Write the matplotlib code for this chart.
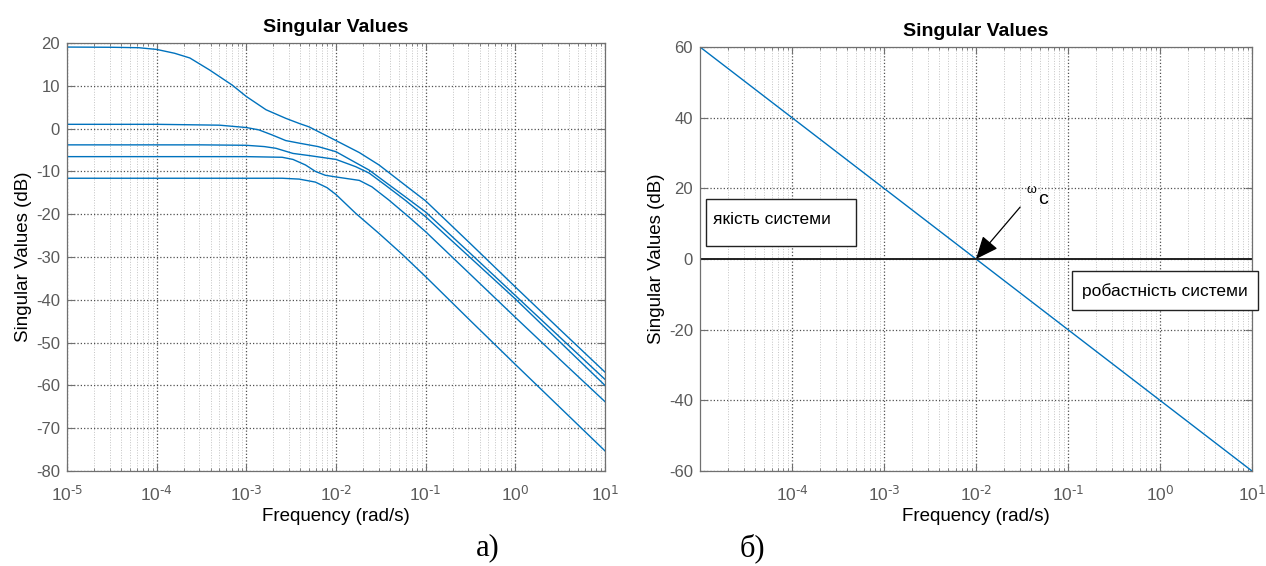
import matplotlib
matplotlib.use("Agg")
import matplotlib.pyplot as plt
import numpy as np
from matplotlib.patches import Rectangle
from matplotlib.ticker import FixedLocator, LogLocator, NullFormatter, FuncFormatter

# --- дані ---------------------------------------------------------------
# ліва панель: п'ять сингулярних чисел, частота задана показником 10^x
sv1_exp = [-5.0, -4.5, -4.2, -4.0, -3.8, -3.63, -3.41, -3.16, -3.0, -2.78, -2.56,
           -2.41, -2.3, -2.0, -1.74, -1.52, -1.23, -1.0, -0.5, 0.0, 0.5, 1.0]
sv1_db = [19.05, 19.0, 18.9, 18.5, 17.6, 16.5, 13.7, 10.2, 7.5, 4.4, 2.4,
          1.2, 0.4, -2.8, -5.6, -8.5, -13.2, -16.9, -26.9, -37.0, -47.0, -56.9]

sv2_exp = [-5.0, -4.0, -3.3, -3.0, -2.86, -2.71, -2.56, -2.41, -2.2, -2.0, -1.82,
           -1.63, -1.23, -1.0, -0.5, 0.0, 0.5, 1.0]
sv2_db = [1.0, 1.0, 0.8, 0.25, -0.3, -1.5, -2.8, -3.4, -4.2, -5.4, -7.5,
          -9.7, -15.9, -19.5, -29.2, -39.0, -48.8, -58.6]

sv3_exp = [-5.0, -3.5, -3.0, -2.8, -2.67, -2.48, -2.3, -2.0, -1.78, -1.63, -1.45,
           -1.23, -1.0, -0.5, 0.0, 0.5, 1.0]
sv3_db = [-3.8, -3.8, -3.9, -4.2, -4.6, -5.8, -6.3, -7.2, -8.9, -10.4, -13.2,
          -16.7, -20.6, -30.2, -39.8, -49.9, -60.0]

sv4_exp = [-5.0, -3.0, -2.6, -2.48, -2.34, -2.23, -2.12, -2.0, -1.74, -1.6, -1.41,
           -1.19, -1.0, -0.5, 0.0, 0.5, 1.0]
sv4_db = [-6.55, -6.55, -6.7, -7.2, -8.5, -10.0, -10.9, -11.3, -12.1, -13.6, -16.7,
          -20.6, -24.1, -34.1, -44.1, -54.0, -63.8]

sv5_exp = [-5.0, -3.0, -2.6, -2.41, -2.23, -2.1, -2.0, -1.78, -1.52, -1.26, -1.0,
           -0.5, 0.0, 0.5, 1.0]
sv5_db = [-11.6, -11.6, -11.6, -11.8, -12.5, -13.8, -15.4, -19.8, -24.5, -29.4, -34.6,
          -44.9, -55.1, -65.2, -75.3]

left_curves = [(sv1_exp, sv1_db), (sv2_exp, sv2_db), (sv3_exp, sv3_db),
               (sv4_exp, sv4_db), (sv5_exp, sv5_db)]

# права панель: бажана характеристика та рівень 0 дБ
loop_freq = [1e-5, 1e1]
loop_db = [60, -60]
crossover_freq = 1e-2

left_yticks = [20, 10, 0, -10, -20, -30, -40, -50, -60, -70, -80]
right_yticks = [60, 40, 20, 0, -20, -40, -60]
left_xticks = [1e-5, 1e-4, 1e-3, 1e-2, 1e-1, 1e0, 1e1]
right_xticks = [1e-4, 1e-3, 1e-2, 1e-1, 1e0, 1e1]

# --- стиль -----------------------------------------------------------------
plt.rcParams["font.family"] = ["Liberation Sans", "DejaVu Sans"]
plt.rcParams["axes.unicode_minus"] = False

LINE = "#0072BD"
AX_GRAY = "#707070"
TICK_GRAY = "#5a5a5a"

fig = plt.figure(figsize=(12.66, 5.66), dpi=100)
W, H = 1266, 566


def px_axes(x0, y0, x1, y1):
    return fig.add_axes([x0 / W, 1 - y1 / H, (x1 - x0) / W, (y1 - y0) / H])


def pow10_label(v, pos):
    # показник з дефісом, як у MATLAB
    e = int(round(np.log10(v)))
    return r"$\mathdefault{10^{\text{%d}}}$" % e


def style_axes(ax, yticks, xticks, ylim):
    ax.set_xscale("log")
    ax.set_xlim(1e-5, 1e1)
    ax.set_ylim(*ylim)
    ax.xaxis.set_major_locator(FixedLocator(xticks))
    ax.xaxis.set_major_formatter(FuncFormatter(pow10_label))
    ax.xaxis.set_minor_locator(LogLocator(base=10, subs=np.arange(2, 10), numticks=20))
    ax.xaxis.set_minor_formatter(NullFormatter())
    ax.set_yticks(yticks)
    ax.set_yticklabels([str(v) for v in yticks])
    for s in ax.spines.values():
        s.set_color(AX_GRAY)
        s.set_linewidth(0.9)
    ax.tick_params(which="both", direction="in", top=True, right=True, color=AX_GRAY)
    ax.tick_params(which="major", length=5, width=0.8)
    ax.tick_params(which="minor", length=2.5, width=0.6)
    ax.tick_params(axis="y", labelsize=12, labelcolor=TICK_GRAY, pad=5)
    ax.tick_params(axis="x", labelsize=12.5, labelcolor=TICK_GRAY, pad=10)
    ax.grid(True, which="major", color="#505050", linestyle=":", linewidth=0.9)
    ax.grid(True, which="minor", axis="x", color="#c4c4c4", linestyle=":", linewidth=0.7)
    ax.set_axisbelow(True)
    ax.set_title("Singular Values", fontsize=14, fontweight="bold", pad=8)
    ax.set_xlabel("Frequency (rad/s)", fontsize=13.5, labelpad=3)
    ax.set_ylabel("Singular Values (dB)", fontsize=13.5, labelpad=3)


# --- ліва панель ---------------------------------------------------------
ax1 = px_axes(67, 43, 605, 471)
for exps, vals in left_curves:
    ax1.plot(10.0 ** np.array(exps), vals, color=LINE, linewidth=1.0)
style_axes(ax1, left_yticks, left_xticks, (-80, 20))

# --- права панель --------------------------------------------------------
ax2 = px_axes(700, 47, 1252, 471)
ax2.plot(loop_freq, loop_db, color=LINE, linewidth=1.0)
ax2.axhline(0, color="#202020", linewidth=1.4)
style_axes(ax2, right_yticks, right_xticks, (-60, 60))

# підписані рамки
for (bx0, by0, bx1, by1, tx, ty, label) in [
    (0.0103, 0.5297, 0.2826, 0.6415, 0.0236, 0.594, "якість системи"),
    (0.6739, 0.3804, 1.0109, 0.4708, 0.6915, 0.4236, "робастність системи"),
]:
    ax2.add_patch(Rectangle((bx0, by0), bx1 - bx0, by1 - by0, transform=ax2.transAxes,
                            facecolor="white", edgecolor="#222222", linewidth=1.0,
                            clip_on=False, zorder=5))
    ax2.text(tx, ty, label, transform=ax2.transAxes, fontsize=12.5, ha="left",
             va="center", zorder=6)

ax2.annotate("", xy=(crossover_freq, 0), xytext=(10 ** -1.52, 14.7),
             arrowprops=dict(arrowstyle="-|>,head_length=0.7,head_width=0.3",
                             color="black", linewidth=0.9,
                             mutation_scale=20, shrinkA=0, shrinkB=0), zorder=7)
ax2.text(10 ** -1.40, 19.6, "ω", fontsize=9, ha="center", va="center", zorder=7)
ax2.text(10 ** -1.27, 16.8, "c", fontsize=14, ha="center", va="center", zorder=7)

# підписи підрисунків
fig.text(488 / W, 1 - 548 / H, "а)", fontsize=22, family="Liberation Serif",
         ha="center", va="center")
fig.text(752 / W, 1 - 548 / H, "б)", fontsize=22, family="Liberation Serif",
         ha="center", va="center")

fig.savefig("out.png", dpi=100)
